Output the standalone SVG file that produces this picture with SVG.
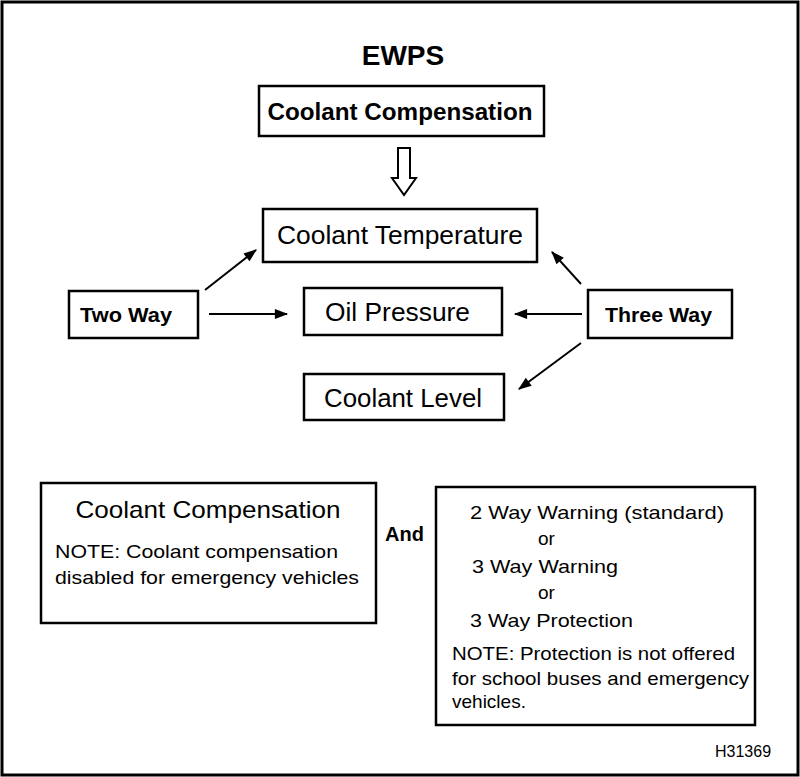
<svg xmlns="http://www.w3.org/2000/svg" width="800" height="777" viewBox="0 0 800 777">
<style>
.box{fill:#fff;stroke:#000;stroke-width:2.5}
.t{font-family:"Liberation Sans",Arial,sans-serif;fill:#000}
.b{font-weight:bold}
.con{stroke:#000;stroke-width:2;fill:none}
</style>
<defs>
<marker id="ah2" viewBox="0 0 12 10" refX="11" refY="5" markerWidth="15" markerHeight="11" orient="auto" markerUnits="userSpaceOnUse">
<path d="M0,0.5 L12,5 L0,9.5 Z" fill="#000"/>
</marker>
</defs>
<rect x="0" y="0" width="800" height="777" fill="#fff"/>
<rect x="2" y="2" width="796" height="773" fill="none" stroke="#000" stroke-width="3"/>
<text class="t b" x="403" y="65" font-size="28" text-anchor="middle">EWPS</text>
<g id="coolant-comp">
<rect class="box" x="259" y="86" width="285" height="50"/>
<text class="t b" x="400" y="120" font-size="24" text-anchor="middle" textLength="265" lengthAdjust="spacingAndGlyphs">Coolant Compensation</text>
</g>
<g id="coolant-temp">
<rect class="box" x="263" y="209" width="274" height="53"/>
<text class="t" x="400" y="244" font-size="25" text-anchor="middle" textLength="246" lengthAdjust="spacingAndGlyphs">Coolant Temperature</text>
</g>
<g id="two-way">
<rect class="box" x="69" y="291" width="129" height="47"/>
<text class="t b" x="80" y="322" font-size="21" textLength="92" lengthAdjust="spacingAndGlyphs">Two Way</text>
</g>
<g id="oil-pressure">
<rect class="box" x="304" y="288" width="198" height="47"/>
<text class="t" x="325" y="321" font-size="25" textLength="145" lengthAdjust="spacingAndGlyphs">Oil Pressure</text>
</g>
<g id="three-way">
<rect class="box" x="588" y="290" width="144" height="48"/>
<text class="t b" x="605" y="322" font-size="21" textLength="107" lengthAdjust="spacingAndGlyphs">Three Way</text>
</g>
<g id="coolant-level">
<rect class="box" x="304" y="374" width="200" height="46"/>
<text class="t" x="324" y="407" font-size="25" textLength="158" lengthAdjust="spacingAndGlyphs">Coolant Level</text>
</g>
<g id="connectors">
<path d="M398,148 H410 V178 H416 L404,195 L392,178 H398 Z" fill="#fff" stroke="#000" stroke-width="2"/>
<line class="con" x1="205" y1="290" x2="256" y2="250" marker-end="url(#ah2)"/>
<line class="con" x1="209" y1="314" x2="287" y2="314" marker-end="url(#ah2)"/>
<line class="con" x1="582" y1="314" x2="515" y2="314" marker-end="url(#ah2)"/>
<line class="con" x1="581" y1="284" x2="552" y2="252" marker-end="url(#ah2)"/>
<line class="con" x1="581" y1="343" x2="519" y2="389" marker-end="url(#ah2)"/>
</g>
<g id="comp-note">
<rect class="box" x="41" y="483" width="335" height="140"/>
<text class="t" x="208" y="518" font-size="24" text-anchor="middle" textLength="265" lengthAdjust="spacingAndGlyphs">Coolant Compensation</text>
<text class="t" x="55" y="558" font-size="19" textLength="283" lengthAdjust="spacingAndGlyphs">NOTE: Coolant compensation</text>
<text class="t" x="55" y="584" font-size="19" textLength="304" lengthAdjust="spacingAndGlyphs">disabled for emergency vehicles</text>
</g>
<text class="t b" x="385" y="541" font-size="20">And</text>
<g id="warning-note">
<rect class="box" x="436" y="487" width="319" height="238"/>
<text class="t" x="470" y="519" font-size="19" textLength="254" lengthAdjust="spacingAndGlyphs">2 Way Warning (standard)</text>
<text class="t" x="538" y="545" font-size="19">or</text>
<text class="t" x="472" y="573" font-size="19" textLength="146" lengthAdjust="spacingAndGlyphs">3 Way Warning</text>
<text class="t" x="538" y="599" font-size="19">or</text>
<text class="t" x="470" y="627" font-size="19" textLength="163" lengthAdjust="spacingAndGlyphs">3 Way Protection</text>
<text class="t" x="452" y="660" font-size="19" textLength="283" lengthAdjust="spacingAndGlyphs">NOTE: Protection is not offered</text>
<text class="t" x="452" y="685" font-size="19" textLength="297" lengthAdjust="spacingAndGlyphs">for school buses and emergency</text>
<text class="t" x="452" y="708" font-size="19">vehicles.</text>
</g>
<text class="t" x="715" y="757" font-size="16">H31369</text>
</svg>
